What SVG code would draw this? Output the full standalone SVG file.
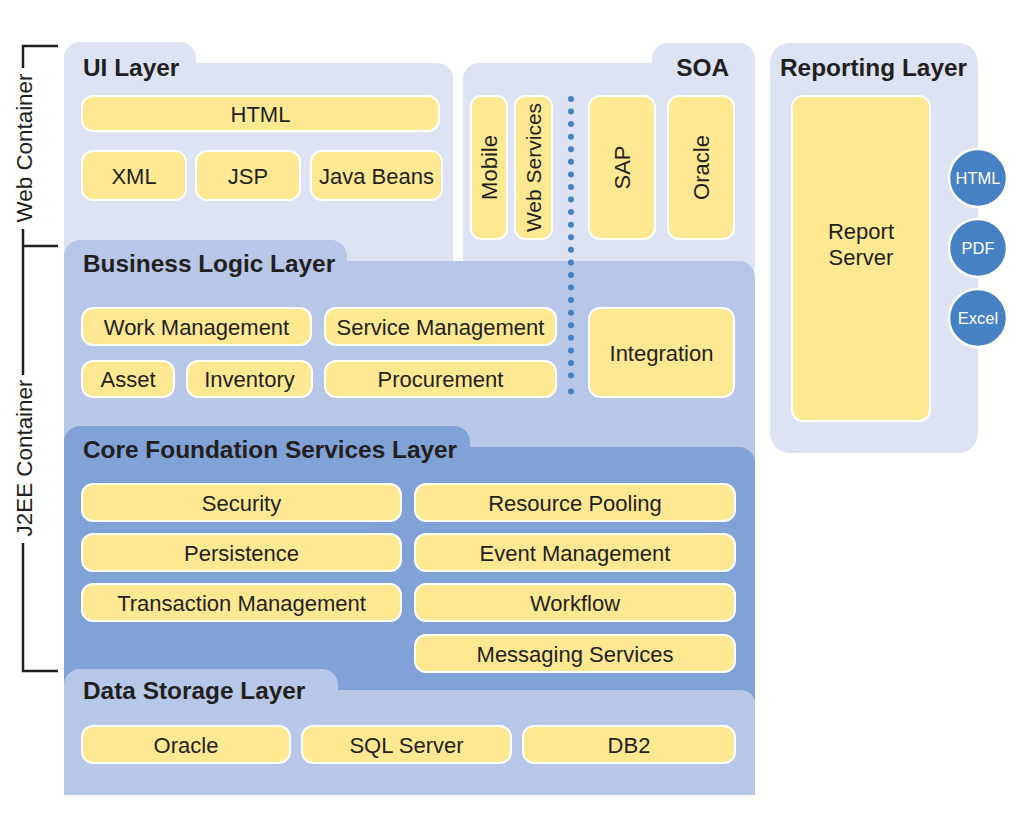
<svg xmlns="http://www.w3.org/2000/svg" width="1019" height="831" viewBox="0 0 1019 831">
<style>
.t{font-family:"Liberation Sans",Arial,sans-serif;fill:#231f20}
.title{font-size:24.4px;font-weight:bold}
.lbl{font-size:22px;text-anchor:middle}
.box{fill:#fee992;stroke:#ffffff;stroke-width:2}
.lav{fill:#dee3f4}
.mid{fill:#b7c7e7}
.dark{fill:#80a2d6}
.circ{fill:#4581c3;stroke:#ffffff;stroke-width:2.5}
.ct{font-family:"Liberation Sans",Arial,sans-serif;font-size:16.5px;fill:#ffffff;text-anchor:middle}
.br{fill:none;stroke:#231f20;stroke-width:2.5}
.dot{fill:#4581c3}
</style>
<rect width="1019" height="831" fill="#ffffff"/>

<g id="brackets">
<path class="br" d="M58,46 H23 V68"/>
<path class="br" d="M23,229 V375"/>
<path class="br" d="M58,246 H23"/>
<path class="br" d="M23,543 V671 H58"/>
<text class="t" font-size="22.4" text-anchor="middle" transform="translate(32,148) rotate(-90)">Web Container</text>
<text class="t" font-size="22.4" text-anchor="middle" transform="translate(32,458) rotate(-90)">J2EE Container</text>
</g>

<g id="ui-layer">
<path class="lav" d="M64,270 V58 A16,16 0 0 1 80,42 H180 A16,16 0 0 1 196,58 V63 H437 A16,16 0 0 1 453,79 V270 Z"/>
<text class="t title" x="83" y="76">UI Layer</text>
<rect class="box" x="82" y="96" width="357" height="35" rx="11"/>
<text class="t lbl" x="260.5" y="121.5">HTML</text>
<rect class="box" x="82" y="151" width="104" height="49" rx="11"/>
<text class="t lbl" x="134" y="183.5">XML</text>
<rect class="box" x="196" y="151" width="104" height="49" rx="11"/>
<text class="t lbl" x="248" y="183.5">JSP</text>
<rect class="box" x="311" y="151" width="131" height="49" rx="11"/>
<text class="t lbl" x="376.5" y="183.5">Java Beans</text>
</g>

<g id="soa">
<path class="lav" d="M463,270 V79 A16,16 0 0 1 479,63 H652 V59 A16,16 0 0 1 668,43 H739 A16,16 0 0 1 755,59 V270 Z"/>
<text class="t title" x="729" y="76" text-anchor="end">SOA</text>
<rect class="box" x="471" y="96" width="36" height="143" rx="10"/>
<text class="t lbl" transform="translate(489,167.5) rotate(-90)" y="8">Mobile</text>
<rect class="box" x="515" y="96" width="37" height="143" rx="10"/>
<text class="t lbl" style="font-size:21px" transform="translate(533.5,167.5) rotate(-90)" y="7.5">Web Services</text>
<rect class="box" x="589" y="96" width="66" height="143" rx="11"/>
<text class="t lbl" transform="translate(622,167.5) rotate(-90)" y="8">SAP</text>
<rect class="box" x="668" y="96" width="66" height="143" rx="11"/>
<text class="t lbl" transform="translate(701,167.5) rotate(-90)" y="8">Oracle</text>
</g>

<g id="reporting-layer">
<rect class="lav" x="770" y="43" width="208" height="410" rx="20"/>
<text class="t title" x="780" y="76">Reporting Layer</text>
<rect class="box" x="792" y="96" width="138" height="325" rx="11"/>
<text class="t lbl" x="861" y="239">Report</text>
<text class="t lbl" x="861" y="265">Server</text>
</g>

<g id="formats">
<circle class="circ" cx="978" cy="178" r="29"/>
<text class="ct" x="978" y="184">HTML</text>
<circle class="circ" cx="978" cy="248" r="29"/>
<text class="ct" x="978" y="254">PDF</text>
<circle class="circ" cx="978" cy="318" r="29"/>
<text class="ct" x="978" y="324">Excel</text>
</g>

<g id="business-logic-layer">
<path class="mid" d="M64,470 V256 A16,16 0 0 1 80,240 H331 A16,16 0 0 1 347,256 V261 H739 A16,16 0 0 1 755,277 V470 Z"/>
<text class="t title" x="83" y="272">Business Logic Layer</text>
<rect class="box" x="82" y="308" width="229" height="37" rx="11"/>
<text class="t lbl" x="196.5" y="334.5">Work Management</text>
<rect class="box" x="325" y="308" width="231" height="37" rx="11"/>
<text class="t lbl" x="440.5" y="334.5">Service Management</text>
<rect class="box" x="82" y="361" width="92" height="36" rx="11"/>
<text class="t lbl" x="128" y="387">Asset</text>
<rect class="box" x="187" y="361" width="125" height="36" rx="11"/>
<text class="t lbl" x="249.5" y="387">Inventory</text>
<rect class="box" x="325" y="361" width="231" height="36" rx="11"/>
<text class="t lbl" x="440.5" y="387">Procurement</text>
<rect class="box" x="589" y="308" width="145" height="89" rx="11"/>
<text class="t lbl" x="661.5" y="360.5">Integration</text>
</g>

<g id="connectors">
<g class="dot">
<circle cx="571" cy="99" r="3"/><circle cx="571" cy="111.6" r="3"/><circle cx="571" cy="124.1" r="3"/><circle cx="571" cy="136.7" r="3"/>
<circle cx="571" cy="149.3" r="3"/><circle cx="571" cy="161.8" r="3"/><circle cx="571" cy="174.4" r="3"/><circle cx="571" cy="187" r="3"/>
<circle cx="571" cy="199.6" r="3"/><circle cx="571" cy="212.1" r="3"/><circle cx="571" cy="224.7" r="3"/><circle cx="571" cy="237.3" r="3"/>
<circle cx="571" cy="249.8" r="3"/><circle cx="571" cy="262.4" r="3"/><circle cx="571" cy="275" r="3"/><circle cx="571" cy="287.5" r="3"/>
<circle cx="571" cy="300.1" r="3"/><circle cx="571" cy="312.7" r="3"/><circle cx="571" cy="325.3" r="3"/><circle cx="571" cy="337.8" r="3"/>
<circle cx="571" cy="350.4" r="3"/><circle cx="571" cy="363" r="3"/><circle cx="571" cy="375.5" r="3"/><circle cx="571" cy="391.5" r="3"/>
</g>
</g>

<g id="core-foundation-services-layer">
<path class="dark" d="M64,700 V442 A16,16 0 0 1 80,426 H454 A16,16 0 0 1 470,442 V447 H739 A16,16 0 0 1 755,463 V700 Z"/>
<text class="t title" x="83" y="458">Core Foundation Services Layer</text>
<rect class="box" x="82" y="484" width="319" height="37" rx="11"/>
<text class="t lbl" x="241.5" y="510.5">Security</text>
<rect class="box" x="82" y="534" width="319" height="37" rx="11"/>
<text class="t lbl" x="241.5" y="560.5">Persistence</text>
<rect class="box" x="82" y="584" width="319" height="37" rx="11"/>
<text class="t lbl" x="241.5" y="610.5">Transaction Management</text>
<rect class="box" x="415" y="484" width="320" height="37" rx="11"/>
<text class="t lbl" x="575" y="510.5">Resource Pooling</text>
<rect class="box" x="415" y="534" width="320" height="37" rx="11"/>
<text class="t lbl" x="575" y="560.5">Event Management</text>
<rect class="box" x="415" y="584" width="320" height="37" rx="11"/>
<text class="t lbl" x="575" y="610.5">Workflow</text>
<rect class="box" x="415" y="635" width="320" height="37" rx="11"/>
<text class="t lbl" x="575" y="661.5">Messaging Services</text>
</g>

<g id="data-storage-layer">
<path class="mid" d="M64,795 V685 A16,16 0 0 1 80,669 H322 A16,16 0 0 1 338,685 V690 H741 A14,14 0 0 1 755,704 V795 Z"/>
<text class="t title" x="83" y="699">Data Storage Layer</text>
<rect class="box" x="82" y="726" width="208" height="37" rx="11"/>
<text class="t lbl" x="186" y="752.5">Oracle</text>
<rect class="box" x="302" y="726" width="209" height="37" rx="11"/>
<text class="t lbl" x="406.5" y="752.5">SQL Server</text>
<rect class="box" x="523" y="726" width="212" height="37" rx="11"/>
<text class="t lbl" x="629" y="752.5">DB2</text>
</g>
</svg>
